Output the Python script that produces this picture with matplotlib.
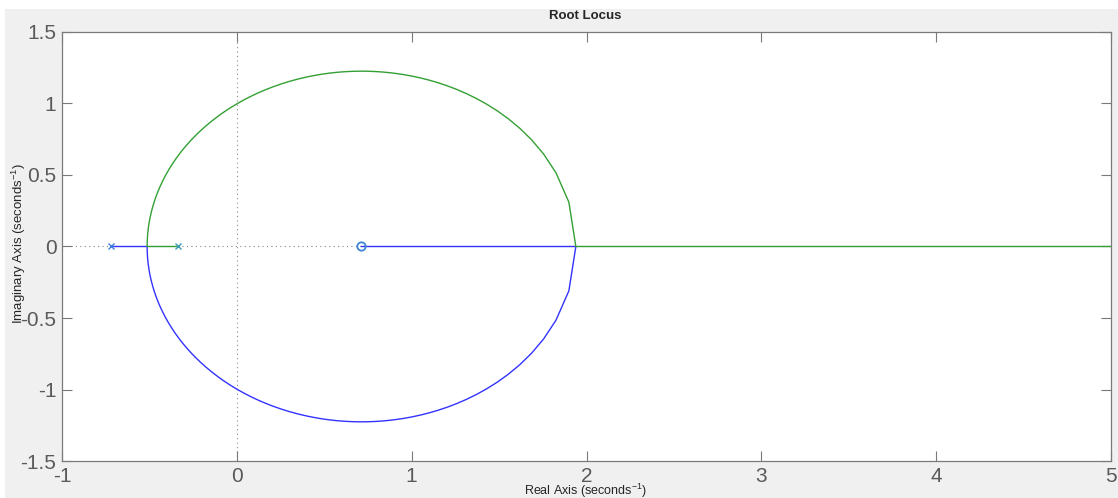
import numpy as np
import matplotlib
matplotlib.use("Agg")
import matplotlib.pyplot as plt
from matplotlib.patches import Rectangle

# Open-loop system: two real poles and one right-half-plane zero
poles = [-0.72, -0.336]
zeros = [0.713]

x_ticks = [-1, 0, 1, 2, 3, 4, 5]
x_tick_labels = ["-1", "0", "1", "2", "3", "4", "5"]
y_ticks = [-1.5, -1, -0.5, 0, 0.5, 1, 1.5]
y_tick_labels = ["-1.5", "-1", "-0.5", "0", "0.5", "1", "1.5"]

plt.rcParams["font.family"] = ["Liberation Sans", "DejaVu Sans"]
plt.rcParams["mathtext.default"] = "regular"
plt.rcParams["axes.unicode_minus"] = False

W, H = 1118, 498
fig = plt.figure(figsize=(W / 100, H / 100), dpi=100, facecolor="white")
fig.patches.append(Rectangle((5 / W, 0), 1, (H - 9) / H, transform=fig.transFigure,
                             facecolor="#f0f0f0", edgecolor="none", zorder=-10))

ax = fig.add_axes([62 / W, (H - 461) / H, (1111 - 62) / W, (461 - 32) / H])
ax.set_facecolor("white")

# Root locus of (s-p1)(s-p2) - K (s - z) = 0
p1, p2 = poles
z = zeros[0]
r = np.sqrt((z - p1) * (z - p2))
s_break = np.array([z - r, z + r])
k_break = (s_break - p1) * (s_break - p2) / (s_break - z)
gains = np.unique(np.concatenate([[0.0], np.logspace(-3, 5, 600), k_break]))

blue_branch, green_branch = [], []
for k in gains:
    rts = np.roots([1.0, -(p1 + p2 + k), p1 * p2 + k * z])
    if abs(rts[0].imag) > 1e-9:
        lo = rts[np.argmin(rts.imag)]
        hi = rts[np.argmax(rts.imag)]
    else:
        rr = np.sort(rts.real)
        lo, hi = complex(rr[0], 0), complex(rr[1], 0)
    blue_branch.append(lo)
    green_branch.append(hi)
blue_branch = np.array(blue_branch)
green_branch = np.array(green_branch)

# Axis crosshair
ax.axhline(0, color="#8c8c8c", linestyle=(0, (1, 3)), linewidth=0.8, zorder=1)
ax.axvline(0, color="#8c8c8c", linestyle=(0, (1, 3)), linewidth=0.8, zorder=1)

ax.plot(blue_branch.real, blue_branch.imag, color="#3333ff", linewidth=1.0, zorder=3)
ax.plot(green_branch.real, green_branch.imag, color="#33a033", linewidth=1.0, zorder=3)

ax.plot([p1], [0], marker="x", color="#3d7fdc", markersize=5, markeredgewidth=1.0,
        linestyle="none", zorder=4)
ax.plot([p2], [0], marker="x", color="#3f9cb0", markersize=5, markeredgewidth=1.0,
        linestyle="none", zorder=4)
ax.plot([z], [0], marker="o", markerfacecolor="none", markeredgecolor="#3d86d6",
        markersize=6, markeredgewidth=1.3, linestyle="none", zorder=4)

ax.set_xlim(-1, 5)
ax.set_ylim(-1.5, 1.5)
ax.set_xticks(x_ticks)
ax.set_xticklabels(x_tick_labels)
ax.set_yticks(y_ticks)
ax.set_yticklabels(y_tick_labels)
ax.tick_params(direction="in", length=7, width=0.8, color="#7a7a7a",
               top=True, right=True, labelsize=15, labelcolor="#5a5a5a", pad=4)
for sp in ax.spines.values():
    sp.set_color("#7a7a7a")
    sp.set_linewidth(0.9)

fig.text(585 / W, 1 - 16 / H, "Root Locus", ha="center", va="center",
         fontsize=9.5, fontweight="bold", color="#262626")
fig.text(585 / W, 1 - 491 / H, "Real Axis (seconds$^{-1}$)", ha="center", va="center",
         fontsize=9, color="#262626")
fig.text(19 / W, 1 - 244 / H, "Imaginary Axis (seconds$^{-1}$)", ha="center", va="center",
         rotation=90, fontsize=9.5, color="#262626")

fig.savefig("out.png", dpi=100, facecolor=fig.get_facecolor())
